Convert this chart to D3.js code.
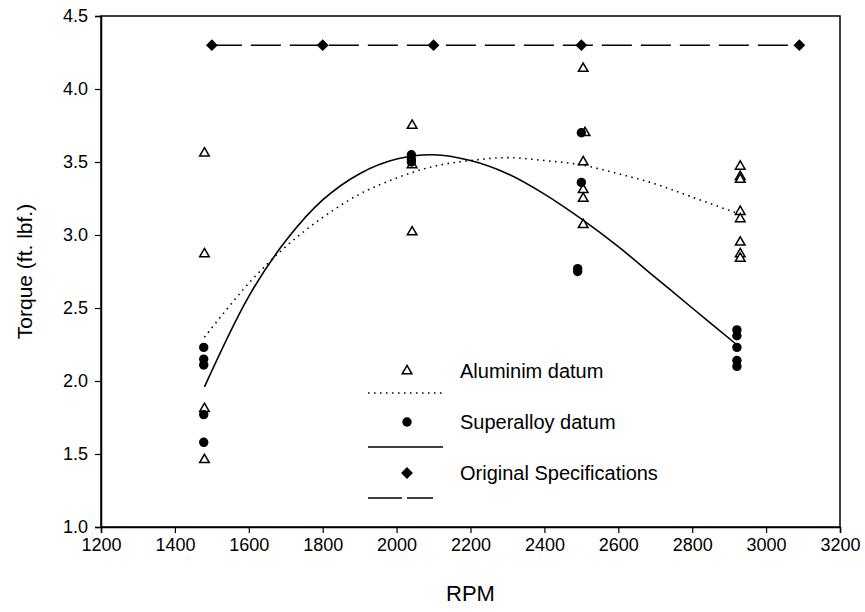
<!DOCTYPE html>
<html>
<head>
<meta charset="utf-8">
<script src="https://cdn.jsdelivr.net/npm/d3@7"></script>
<style>
  html, body { margin: 0; padding: 0; background: #fff; }
  svg { display: block; font-family: "Liberation Sans", Arial, sans-serif; }
</style>
</head>
<body>
<svg id="chart" width="865" height="612"></svg>
<script>
// Torque measurements by spindle speed
const alumRpm    = [1480, 1480, 1480, 1480, 2042, 2042, 2042, 2505, 2510, 2505, 2505, 2505, 2505, 2930, 2930, 2930, 2930, 2930, 2930, 2930, 2930];
const alumTorque = [3.56, 2.87, 1.81, 1.46, 3.75, 3.48, 3.02, 4.14, 3.70, 3.50, 3.31, 3.25, 3.07, 3.47, 3.40, 3.38, 3.16, 3.11, 2.95, 2.87, 2.84];

const supRpm    = [1478, 1478, 1478, 1478, 1478, 2040, 2040, 2040, 2500, 2500, 2490, 2490, 2921, 2921, 2921, 2921, 2921];
const supTorque = [2.23, 2.15, 2.11, 1.77, 1.58, 3.55, 3.52, 3.50, 3.70, 3.36, 2.77, 2.75, 2.35, 2.31, 2.23, 2.14, 2.10];

// Fitted trend curves
const alumFitRpm    = [1480, 1600, 1700, 1800, 1900, 2000, 2100, 2200, 2300, 2400, 2500, 2600, 2700, 2800, 2920];
const alumFitTorque = [2.30, 2.67, 2.92, 3.12, 3.28, 3.39, 3.47, 3.51, 3.53, 3.51, 3.48, 3.42, 3.35, 3.26, 3.15];

const supFitRpm    = [1480, 1600, 1700, 1800, 1900, 2000, 2100, 2200, 2300, 2400, 2500, 2600, 2700, 2800, 2920];
const supFitTorque = [1.96, 2.58, 2.96, 3.24, 3.42, 3.52, 3.55, 3.51, 3.42, 3.28, 3.11, 2.92, 2.71, 2.50, 2.25];

// Original specification
const specRpm    = [1500, 1800, 2100, 2500, 3090];
const specTorque = [4.3, 4.3, 4.3, 4.3, 4.3];

const xTicks = [1200, 1400, 1600, 1800, 2000, 2200, 2400, 2600, 2800, 3000, 3200];
const yTicks = [1.0, 1.5, 2.0, 2.5, 3.0, 3.5, 4.0, 4.5];

const legendLabels = ["Aluminim datum", "Superalloy datum", "Original Specifications"];

const svg = d3.select("#chart");
const margin = { left: 101, right: 25, top: 16, bottom: 85 };
const W = 865, H = 612;
const x = d3.scaleLinear().domain([1200, 3200]).range([margin.left, W - margin.right]);
const y = d3.scaleLinear().domain([1.0, 4.5]).range([H - margin.bottom, margin.top]);

// frame
svg.append("rect")
  .attr("x", x(1200)).attr("y", y(4.5))
  .attr("width", x(3200) - x(1200)).attr("height", y(1.0) - y(4.5))
  .attr("fill", "none").attr("stroke", "#000").attr("stroke-width", 1.5);

// axes
const xAxis = svg.append("g")
  .attr("transform", `translate(0,${y(1.0)})`)
  .call(d3.axisBottom(x).tickValues(xTicks).tickFormat(d3.format("d")).tickSize(6).tickPadding(5));
const yAxis = svg.append("g")
  .attr("transform", `translate(${x(1200)},0)`)
  .call(d3.axisLeft(y).tickValues(yTicks).tickFormat(d3.format(".1f")).tickSize(6).tickPadding(7));
[xAxis, yAxis].forEach(g => {
  g.select(".domain").attr("stroke-width", 1.5);
  g.selectAll(".tick line").attr("stroke-width", 1.2);
  g.selectAll("text").attr("font-size", 18).attr("fill", "#000")
    .attr("font-family", "Liberation Sans, Arial, sans-serif");
});

// axis titles
svg.append("text")
  .attr("x", (x(1200) + x(3200)) / 2).attr("y", 601)
  .attr("text-anchor", "middle").attr("font-size", 22).text("RPM");
svg.append("text")
  .attr("transform", `translate(32,${(y(1.0) + y(4.5)) / 2}) rotate(-90)`)
  .attr("text-anchor", "middle").attr("font-size", 21).text("Torque (ft. lbf.)");

const plot = svg.append("g");

// spec line and markers
plot.append("path")
  .datum(d3.zip(specRpm, specTorque))
  .attr("fill", "none").attr("stroke", "#000").attr("stroke-width", 1.6)
  .attr("stroke-dasharray", "30,9")
  .attr("d", d3.line().x(d => x(d[0])).y(d => y(d[1])));

// fitted curves
plot.append("path")
  .datum(d3.zip(alumFitRpm, alumFitTorque))
  .attr("fill", "none").attr("stroke", "#000").attr("stroke-width", 1.6)
  .attr("stroke-dasharray", "1.5,4.5")
  .attr("d", d3.line().curve(d3.curveCatmullRom).x(d => x(d[0])).y(d => y(d[1])));
plot.append("path")
  .datum(d3.zip(supFitRpm, supFitTorque))
  .attr("fill", "none").attr("stroke", "#000").attr("stroke-width", 1.6)
  .attr("d", d3.line().curve(d3.curveCatmullRom).x(d => x(d[0])).y(d => y(d[1])));

const tri = d3.symbol().type(d3.symbolTriangle).size(40);
// square turned 45 degrees
const dia = d3.symbol().type(d3.symbolSquare).size(70);

plot.selectAll(".alum").data(d3.zip(alumRpm, alumTorque)).join("path")
  .attr("class", "alum")
  .attr("transform", d => `translate(${x(d[0])},${y(d[1])})`)
  .attr("d", tri).attr("fill", "#fff").attr("stroke", "#000").attr("stroke-width", 1.5);

plot.selectAll(".sup").data(d3.zip(supRpm, supTorque)).join("circle")
  .attr("class", "sup")
  .attr("cx", d => x(d[0])).attr("cy", d => y(d[1])).attr("r", 4.7).attr("fill", "#000");

plot.selectAll(".spec").data(d3.zip(specRpm, specTorque)).join("path")
  .attr("class", "spec")
  .attr("transform", d => `translate(${x(d[0])},${y(d[1])}) rotate(45)`)
  .attr("d", dia).attr("fill", "#000");

// legend
const lg = svg.append("g").attr("transform", "translate(368,371)");
const rowH = 51;
const symX = 39, lineW = 75, textX = 92;
lg.append("path").attr("transform", `translate(${symX},0)`).attr("d", tri)
  .attr("fill", "#fff").attr("stroke", "#000").attr("stroke-width", 1.5);
lg.append("line").attr("x1", 0).attr("x2", lineW).attr("y1", 22).attr("y2", 22)
  .attr("stroke", "#000").attr("stroke-width", 1.6).attr("stroke-dasharray", "1.5,4.5");
lg.append("circle").attr("cx", symX).attr("cy", rowH).attr("r", 4.7).attr("fill", "#000");
lg.append("line").attr("x1", 0).attr("x2", lineW).attr("y1", rowH + 25).attr("y2", rowH + 25)
  .attr("stroke", "#000").attr("stroke-width", 1.6);
lg.append("path").attr("transform", `translate(${symX},${2 * rowH}) rotate(45)`).attr("d", dia).attr("fill", "#000");
lg.append("line").attr("x1", 0).attr("x2", 65).attr("y1", 2 * rowH + 25).attr("y2", 2 * rowH + 25)
  .attr("stroke", "#000").attr("stroke-width", 1.6).attr("stroke-dasharray", "34,5");
legendLabels.forEach((t, i) => {
  lg.append("text").attr("x", textX).attr("y", i * rowH).attr("dy", "0.35em")
    .attr("font-size", 20).text(t);
});
</script>
</body>
</html>
